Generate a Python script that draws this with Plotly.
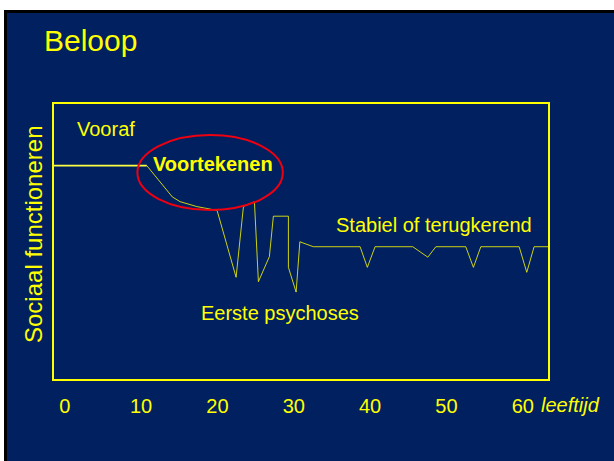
import plotly.graph_objects as go

# --- data (age in years, social functioning level 0-100) ---
pre_age = [-1.4, 10.75]
pre_level = [77.6, 77.6]

course_age = [10.75, 12.4, 13.37, 14.1, 15.11, 17.30, 19.96, 22.45, 23.41, 24.85,
              25.37, 26.81, 27.33, 29.30, 29.30, 30.31, 30.80, 32.57, 38.69, 39.64,
              40.65, 45.59, 47.56, 48.61, 52.53, 53.53, 54.50, 59.52, 60.52, 61.48, 63.3]
course_level = [77.6, 72.0, 68.7, 66.2, 64.5, 62.7, 61.3, 37.0, 62.7, 64.5,
                35.4, 44.5, 59.2, 59.2, 40.6, 31.6, 49.9, 48.1, 48.1, 40.6,
                48.1, 48.1, 44.3, 48.1, 48.1, 40.6, 48.1, 48.1, 38.8, 48.1, 48.1]

tick_vals = [0, 10, 20, 30, 40, 50, 60]
tick_text = ["0", "10", "20", "30", "40", "50", "60"]

NAVY = "#002060"
YEL = "#ffff00"
FONT = "Arial, Liberation Sans, sans-serif"

W, H = 614, 461
L, R, T, B = 54, 548, 104, 379  # plot box in pixels

def px(xp):
    return (xp - L) / (R - L)

def py(yp):
    return (B - yp) / (B - T)

fig = go.Figure()
fig.add_trace(go.Scatter(x=pre_age, y=pre_level, mode="lines",
                         line=dict(color="#ffff40", width=1.6), hoverinfo="skip"))
fig.add_trace(go.Scatter(x=course_age, y=course_level, mode="lines",
                         line=dict(color=YEL, width=0.8), hoverinfo="skip"))

shapes = [
    # white strips + black border of the slide
    dict(type="rect", xref="paper", yref="paper", x0=px(0), x1=px(W), y0=py(0), y1=py(10),
         fillcolor="white", line=dict(width=0), layer="below"),
    dict(type="rect", xref="paper", yref="paper", x0=px(0), x1=px(4), y0=py(0), y1=py(H),
         fillcolor="white", line=dict(width=0), layer="below"),
    dict(type="rect", xref="paper", yref="paper", x0=px(4), x1=px(W), y0=py(10), y1=py(13),
         fillcolor="black", line=dict(width=0), layer="below"),
    dict(type="rect", xref="paper", yref="paper", x0=px(4), x1=px(7), y0=py(10), y1=py(H),
         fillcolor="black", line=dict(width=0), layer="below"),
    # red ellipse around "Voortekenen"
    dict(type="circle", xref="x", yref="y", x0=9.52, x1=28.57, y0=61.45, y1=88.7,
         line=dict(color="#ee0010", width=2)),
]

annotations = [
    dict(text="Beloop", xref="paper", yref="paper", x=px(42), y=py(40),
         xanchor="left", yanchor="middle", showarrow=False,
         font=dict(family=FONT, size=30, color=YEL)),
    dict(text="Sociaal functioneren", xref="paper", yref="paper", x=px(33), y=py(235),
         xanchor="center", yanchor="middle", textangle=-90, showarrow=False,
         font=dict(family=FONT, size=24, color=YEL)),
    dict(text="Vooraf", xref="x", yref="y", x=5.42, y=90.9, showarrow=False,
         font=dict(family=FONT, size=20, color=YEL)),
    dict(text="<b>Voortekenen</b>", xref="x", yref="y", x=19.40, y=78.1, showarrow=False,
         font=dict(family=FONT, size=20, color=YEL)),
    dict(text="Stabiel of terugkerend", xref="x", yref="y", x=48.38, y=56.0, showarrow=False,
         font=dict(family=FONT, size=20, color=YEL)),
    dict(text="Eerste psychoses", xref="x", yref="y", x=28.2, y=24.0, showarrow=False,
         font=dict(family=FONT, size=20, color=YEL)),
    dict(text="<i>leeftijd</i>", xref="paper", yref="paper", x=px(570), y=py(405),
         xanchor="center", yanchor="middle", showarrow=False,
         font=dict(family=FONT, size=20, color=YEL)),
]

fig.update_layout(
    width=W, height=H,
    margin=dict(l=L, r=W - R, t=T, b=H - B, pad=0),
    paper_bgcolor=NAVY, plot_bgcolor=NAVY,
    showlegend=False,
    shapes=shapes, annotations=annotations,
    xaxis=dict(range=[-1.4, 63.3], tickvals=tick_vals, ticktext=tick_text,
               showgrid=False, zeroline=False, ticks="",
               showline=True, mirror=True, linecolor=YEL, linewidth=1.5,
               tickfont=dict(family=FONT, size=20, color=YEL),
               ticklabelstandoff=8),
    yaxis=dict(range=[0, 100], showgrid=False, zeroline=False, showticklabels=False,
               ticks="", showline=True, mirror=True, linecolor=YEL, linewidth=1.5),
)

fig.write_html("out.html", config={"displayModeBar": False},
               post_script="document.body.style.margin='0';document.body.style.overflow='hidden';")
